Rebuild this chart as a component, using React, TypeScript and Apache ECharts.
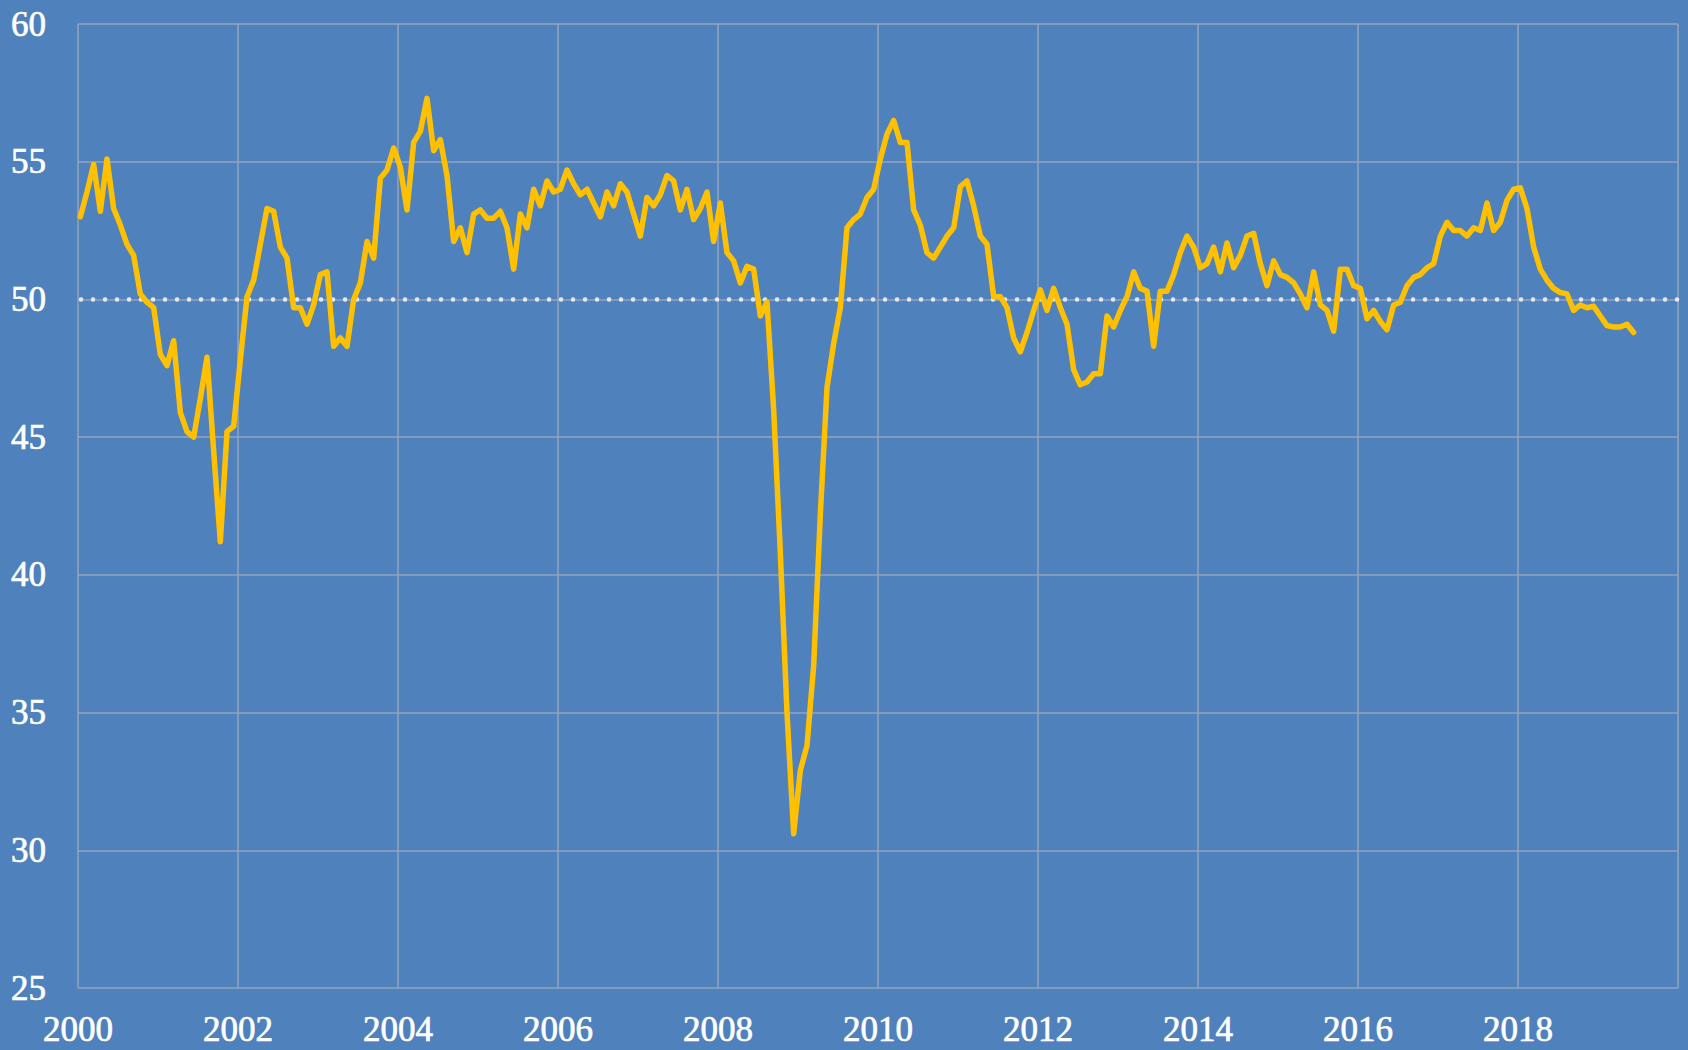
import React, { useEffect, useRef } from "react";
import * as echarts from "echarts";

// Monthly index values, Jan of each year onward
const v2000 = [53.0, 53.9, 54.9, 53.2, 55.1, 53.3, 52.7, 52.0, 51.6, 50.2, 49.9, 49.7];
const v2001 = [48.0, 47.6, 48.5, 45.9, 45.2, 45.0, 46.4, 47.9, 44.5, 41.2, 45.2, 45.4];
const v2002 = [47.8, 50.1, 50.7, 52.0, 53.3, 53.2, 51.9, 51.5, 49.7, 49.7, 49.1, 49.8];
const v2003 = [50.9, 51.0, 48.3, 48.6, 48.3, 50.0, 50.6, 52.1, 51.5, 54.4, 54.7, 55.5];
const v2004 = [54.8, 53.25, 55.7, 56.1, 57.3, 55.4, 55.8, 54.5, 52.1, 52.6, 51.7, 53.1];
const v2005 = [53.25, 52.95, 52.95, 53.2, 52.6, 51.1, 53.1, 52.6, 54.0, 53.4, 54.3, 53.9];
const v2006 = [54.0, 54.7, 54.2, 53.8, 54.0, 53.5, 53.0, 53.9, 53.4, 54.2, 53.9, 53.1];
const v2007 = [52.3, 53.7, 53.4, 53.8, 54.5, 54.3, 53.25, 54.0, 52.9, 53.3, 53.9, 52.1];
const v2008 = [53.5, 51.7, 51.4, 50.6, 51.2, 51.1, 49.4, 49.9, 46.0, 40.8, 35.0, 30.6];
const v2009 = [32.9, 33.8, 36.7, 42.2, 46.8, 48.4, 49.7, 52.6, 52.9, 53.1, 53.7, 54.0];
const v2010 = [55.1, 56.0, 56.5, 55.7, 55.7, 53.25, 52.7, 51.7, 51.5, 51.9, 52.3, 52.6];
const v2011 = [54.1, 54.3, 53.4, 52.3, 52.0, 50.1, 50.1, 49.7, 48.6, 48.1, 48.8, 49.6];
const v2012 = [50.35, 49.6, 50.4, 49.7, 49.1, 47.45, 46.9, 47.0, 47.3, 47.3, 49.4, 49.0];
const v2013 = [49.6, 50.1, 51.0, 50.4, 50.3, 48.3, 50.3, 50.3, 50.9, 51.7, 52.3, 51.9];
const v2014 = [51.15, 51.3, 51.9, 51.0, 52.05, 51.15, 51.6, 52.3, 52.4, 51.3, 50.5, 51.4];
const v2015 = [50.9, 50.8, 50.6, 50.2, 49.7, 51.0, 49.8, 49.6, 48.85, 51.1, 51.1, 50.5];
const v2016 = [50.4, 49.3, 49.6, 49.2, 48.9, 49.8, 49.9, 50.5, 50.8, 50.9, 51.15, 51.3];
const v2017 = [52.3, 52.8, 52.5, 52.5, 52.3, 52.6, 52.5, 53.5, 52.5, 52.8, 53.6, 54.0];
const v2018 = [54.05, 53.3, 51.9, 51.1, 50.7, 50.4, 50.25, 50.2, 49.6, 49.8, 49.7, 49.75];
const v2019 = [49.4, 49.05, 49.0, 49.0, 49.1, 48.8];

const startYear = 2000;
// each monthly reading is dated slightly into its month
const monthDateOffset = 0.35;
const years = [v2000, v2001, v2002, v2003, v2004, v2005, v2006, v2007, v2008, v2009,
  v2010, v2011, v2012, v2013, v2014, v2015, v2016, v2017, v2018, v2019];

const threshold = 50;
const xMin = 2000;
const xMax = 2020;
const xStep = 2;
const yMin = 25;
const yMax = 60;
const yStep = 5;

export default function App() {
  const ref = useRef<HTMLDivElement>(null);

  useEffect(() => {
    if (!ref.current) return;
    const chart = echarts.init(ref.current, undefined, { renderer: "svg" });
    const values = years.flat();
    const seriesData = values.map((v, i) => [startYear + (i + monthDateOffset) / 12, v]);
    const font = "'Liberation Serif', 'Times New Roman', serif";
    const labelStyle = {
      color: "#FFFFFF",
      fontFamily: font,
      fontSize: 35,
      textBorderColor: "#FFFFFF",
      textBorderWidth: 0.7,
    };
    chart.setOption({
      animation: false,
      backgroundColor: "#4F81BD",
      grid: { left: 78, right: 10, top: 24, bottom: 62, containLabel: false },
      xAxis: {
        type: "value",
        min: xMin,
        max: xMax,
        interval: xStep,
        axisLine: { show: false },
        axisTick: { show: false },
        axisLabel: {
          ...labelStyle,
          margin: 24,
          showMaxLabel: false,
          formatter: (v: number) => String(v),
        },
        splitLine: { show: true, lineStyle: { color: "#93A4BE", width: 1.5 } },
      },
      yAxis: {
        type: "value",
        min: yMin,
        max: yMax,
        interval: yStep,
        axisLine: { show: false },
        axisTick: { show: false },
        axisLabel: {
          ...labelStyle,
          margin: 32,
        },
        splitLine: { show: true, lineStyle: { color: "#93A4BE", width: 1.5 } },
      },
      series: [
        {
          type: "line",
          name: "threshold",
          data: [[xMin, threshold], [xMax, threshold]],
          symbol: "none",
          silent: true,
          z: 1,
          lineStyle: {
            color: "#E4E8F0",
            width: 4.5,
            type: [0.1, 11.9],
            cap: "round",
            dashOffset: 8.7,
          },
        },
        {
          type: "line",
          name: "index",
          data: seriesData,
          symbol: "none",
          z: 2,
          lineStyle: { color: "#FFC000", width: 5.5, join: "round", cap: "round" },
        },
      ],
    });
    return () => chart.dispose();
  }, []);

  return (
    <div
      ref={ref}
      style={{ position: "fixed", left: 0, top: 0, width: 1688, height: 1050 }}
    />
  );
}
